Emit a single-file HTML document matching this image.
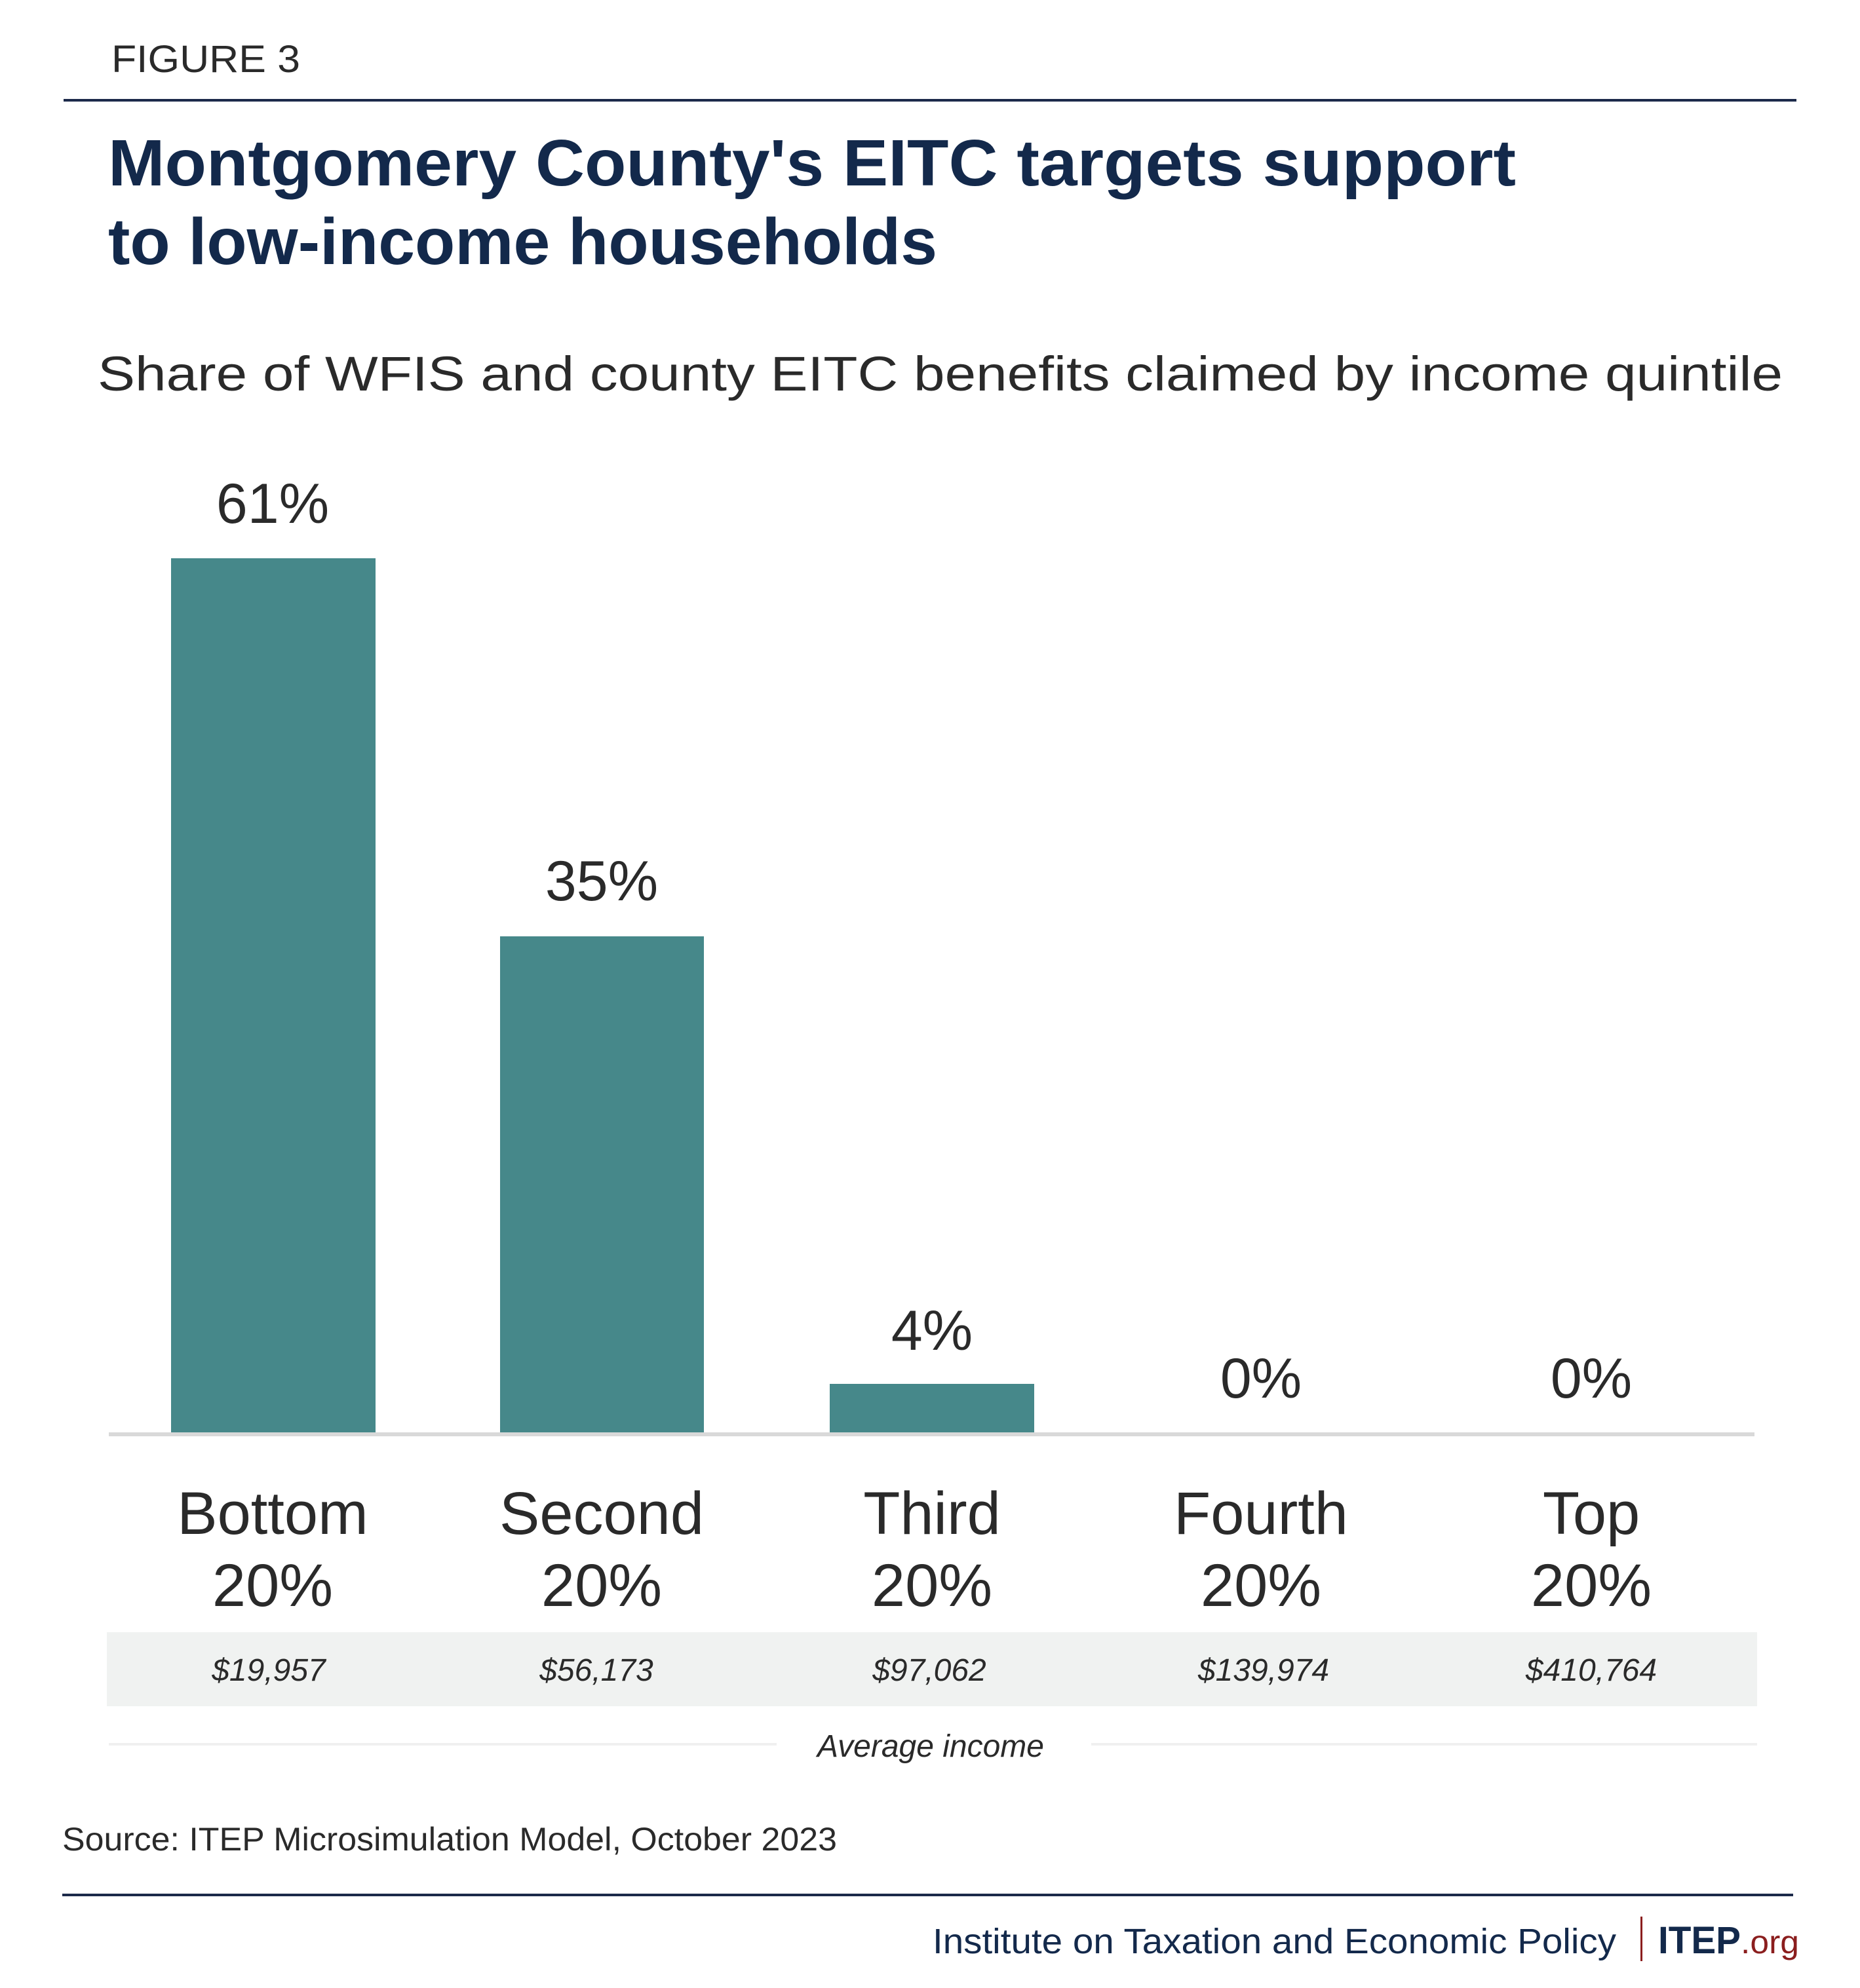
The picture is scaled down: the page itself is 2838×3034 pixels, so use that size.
<!DOCTYPE html>
<html><head><meta charset="utf-8"><style>html,body{margin:0;padding:0;background:#fff}svg{display:block}</style></head><body>
<svg width="2838" height="3034" viewBox="0 0 2838 3034" xmlns="http://www.w3.org/2000/svg" font-family="Liberation Sans, sans-serif">
<rect width="2838" height="3034" fill="#fff"/>
<text x="170" y="110" font-size="58" fill="#2a2a2a" textLength="288" lengthAdjust="spacingAndGlyphs">FIGURE 3</text>
<rect x="97" y="151" width="2644" height="4" fill="#1c2a4a"/>
<text x="165" y="283" font-size="100" font-weight="bold" fill="#13294b" textLength="2148" lengthAdjust="spacingAndGlyphs">Montgomery County's EITC targets support</text>
<text x="165" y="403" font-size="100" font-weight="bold" fill="#13294b" textLength="1265" lengthAdjust="spacingAndGlyphs">to low-income households</text>
<text x="149" y="596" font-size="74" fill="#2a2a2a" textLength="2571" lengthAdjust="spacingAndGlyphs">Share of WFIS and county EITC benefits claimed by income quintile</text>
<g fill="#46888a">
<rect x="261" y="852" width="312" height="1337"/>
<rect x="763" y="1429" width="311" height="760"/>
<rect x="1266" y="2112" width="312" height="77"/>
</g>
<rect x="166" y="2186" width="2511" height="6" fill="#d9d9d9"/>
<g font-size="86" fill="#2a2a2a" text-anchor="middle">
<text x="416" y="798">61%</text>
<text x="918" y="1374">35%</text>
<text x="1422" y="2060">4%</text>
<text x="1924" y="2133">0%</text>
<text x="2428" y="2133">0%</text>
</g>
<g font-size="92" fill="#2a2a2a" text-anchor="middle">
<text x="416" y="2341">Bottom</text><text x="416" y="2451">20%</text>
<text x="918" y="2341">Second</text><text x="918" y="2451">20%</text>
<text x="1422" y="2341">Third</text><text x="1422" y="2451">20%</text>
<text x="1924" y="2341">Fourth</text><text x="1924" y="2451">20%</text>
<text x="2428" y="2341">Top</text><text x="2428" y="2451">20%</text>
</g>
<rect x="163" y="2491" width="2518" height="113" fill="#f0f2f1"/>
<g font-size="48" font-style="italic" fill="#2a2a2a" text-anchor="middle">
<text x="410" y="2565">$19,957</text>
<text x="910" y="2565">$56,173</text>
<text x="1418" y="2565">$97,062</text>
<text x="1928" y="2565">$139,974</text>
<text x="2428" y="2565">$410,764</text>
<text x="1420" y="2681">Average income</text>
</g>
<rect x="166" y="2660" width="1019" height="4" fill="#f0f0f0"/>
<rect x="1665" y="2660" width="1016" height="4" fill="#f0f0f0"/>
<text x="95" y="2824" font-size="50" fill="#2a2a2a" textLength="1182" lengthAdjust="spacingAndGlyphs">Source: ITEP Microsimulation Model, October 2023</text>
<rect x="95" y="2890" width="2641" height="4" fill="#1c2a4a"/>
<text x="1423" y="2981" font-size="54" fill="#13294b" textLength="1043" lengthAdjust="spacingAndGlyphs">Institute on Taxation and Economic Policy</text>
<rect x="2503" y="2925" width="3" height="68" fill="#8b1e1e"/>
<text x="2530" y="2981" font-size="58" font-weight="bold" fill="#13294b" textLength="126" lengthAdjust="spacingAndGlyphs">ITEP</text>
<text x="2656" y="2981" font-size="50" fill="#8b1e1e" textLength="89" lengthAdjust="spacingAndGlyphs">.org</text>
</svg>
</body></html>
